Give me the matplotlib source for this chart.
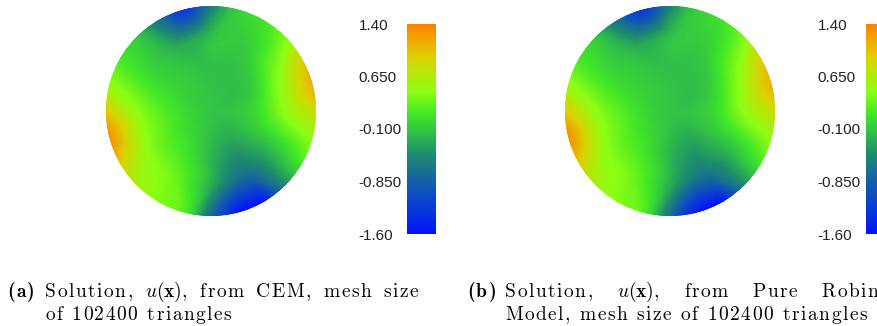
import numpy as np
import matplotlib
matplotlib.use('Agg')
import matplotlib.pyplot as plt
import matplotlib.tri as mtri
from matplotlib.colors import LinearSegmentedColormap, Normalize
from matplotlib.patches import Circle

# POTENTIAL u(x) SAMPLED ON THE DISK (read from the renders)
u_centre_a = -0.12
ang_inner = [0, 30, 60, 90, 120, 150, 180, 210, 240, 270, 300, 330]
ang_outer = [0, 15, 30, 45, 60, 75, 90, 105, 120, 135, 150, 165,
             180, 195, 210, 225, 240, 255, 270, 285, 300, 315, 330, 345]
r_inner, r_mid, r_outer = 0.4, 0.7, 1.02

u_a_inner = [0.0, -0.1, -0.15, -0.15, -0.1, 0.0, 0.15, 0.15, 0.05, -0.2, -0.35, -0.15]
u_a_mid = [0.45, 0.35, -0.05, -0.15, -0.25, 0.05, 0.45, 0.45, 0.3, -0.25, -0.7, -0.1]
u_a_outer = [0.85, 1.15, 0.95, 0.4, 0.1, -0.05, -0.6, -1.3, -0.7, -0.1, 0.15, 0.5,
             1.0, 1.35, 1.0, 0.6, 0.4, 0.2, -0.8, -1.6, -1.6, -0.5, 0.15, 0.5]

u_centre_b = -0.12
u_b_inner = [0.0, -0.1, -0.15, -0.15, -0.1, 0.0, 0.15, 0.15, 0.05, -0.2, -0.35, -0.15]
u_b_mid = [0.45, 0.35, -0.05, -0.15, -0.25, 0.05, 0.45, 0.45, 0.3, -0.25, -0.65, -0.1]
u_b_outer = [0.85, 1.15, 0.95, 0.4, 0.1, -0.05, -0.55, -1.3, -0.75, -0.1, 0.15, 0.5,
             1.0, 1.35, 1.0, 0.6, 0.4, 0.2, -0.75, -1.6, -1.6, -0.5, 0.15, 0.5]

cb_ticks = [1.40, 0.650, -0.100, -0.850, -1.60]
cb_labels = ['1.40', '0.650', '-0.100', '-0.850', '-1.60']

# paraview-like rainbow
cmap = LinearSegmentedColormap.from_list('pv', [
    (0.00, (0/255, 20/255, 255/255)),
    (0.13, (10/255, 60/255, 215/255)),
    (0.25, (20/255, 95/255, 170/255)),
    (0.38, (30/255, 140/255, 110/255)),
    (0.49, (50/255, 195/255, 70/255)),
    (0.57, (65/255, 230/255, 40/255)),
    (0.68, (140/255, 255/255, 20/255)),
    (0.84, (220/255, 210/255, 0/255)),
    (1.00, (255/255, 130/255, 0/255)),
])
norm = Normalize(vmin=-1.6, vmax=1.4)

plt.rcParams['mathtext.fontset'] = 'cm'
W, H = 877, 326
fig = plt.figure(figsize=(W/100, H/100), dpi=100)


def box(x0, y0, x1, y1):
    # pixel box (top-left origin) -> figure fraction
    return [x0/W, 1 - y1/H, (x1-x0)/W, (y1-y0)/H]


def draw_disk(ax, centre, inner, mid, outer):
    ai = np.radians(ang_inner)
    ao = np.radians(ang_outer)
    xs = np.concatenate([[0], r_inner*np.cos(ai), r_mid*np.cos(ai), r_outer*np.cos(ao)])
    ys = np.concatenate([[0], r_inner*np.sin(ai), r_mid*np.sin(ai), r_outer*np.sin(ao)])
    zs = np.concatenate([[centre], inner, mid, outer])
    tri = mtri.Triangulation(xs, ys)
    refiner = mtri.UniformTriRefiner(tri)
    interp = mtri.CubicTriInterpolator(tri, zs, kind='geom')
    tri_f, z_f = refiner.refine_field(zs, triinterpolator=interp, subdiv=4)
    m = ax.tripcolor(tri_f, z_f, cmap=cmap, norm=norm, shading='gouraud')
    m.set_clip_path(Circle((0, 0), 1.0, transform=ax.transData))
    ax.set_xlim(-1, 1)
    ax.set_ylim(-1, 1)
    ax.set_aspect('equal')
    ax.axis('off')
    return m


def draw_cbar(cax, m):
    cb = fig.colorbar(m, cax=cax, ticks=cb_ticks)
    cb.outline.set_visible(False)
    cax.yaxis.set_ticks_position('left')
    cax.set_yticklabels(cb_labels)
    cax.tick_params(length=0, pad=35, labelsize=11)
    for t in cax.get_yticklabels():
        t.set_horizontalalignment('left')
        t.set_fontfamily('Liberation Sans')
        t.set_color('#222222')


ax_a = fig.add_axes(box(106, 6, 316, 216))
m_a = draw_disk(ax_a, u_centre_a, u_a_inner, u_a_mid, u_a_outer)
draw_cbar(fig.add_axes(box(407, 24, 436, 234)), m_a)

ax_b = fig.add_axes(box(565, 6, 775, 216))
m_b = draw_disk(ax_b, u_centre_b, u_b_inner, u_b_mid, u_b_outer)
draw_cbar(fig.add_axes(box(866, 24, 895, 234)), m_b)

# CAPTIONS (low-res dvi look: a little letter spacing)
fs = 14
track = 1.5
cap = dict(fontsize=fs, family='cmr10', va='baseline', color='black')
renderer = fig.canvas.get_renderer()


def text_w(s, style):
    t = fig.text(0, 0, s, **style)
    w = t.get_window_extent(renderer).width
    t.remove()
    return w


def word_w(w, style=cap):
    if w.startswith('$'):
        return text_w(w, style)
    return text_w(w, style) + track*(len(w) - 1)


def put_word(w, x, y, style=cap):
    if w.startswith('$'):
        fig.text(x/W, 1 - y/H, w, **style)
        return
    for k, ch in enumerate(w):
        xk = x + (text_w(w[:k] + 'x', style) - text_w('x', style) if k else 0) + track*k
        fig.text(xk/W, 1 - y/H, ch, **style)


def line(words, x0, y, x1=None):
    widths = [word_w(w) for w in words]
    if x1 is None:
        gap = text_w('a a', cap) - text_w('aa', cap) + 2*track
    else:
        gap = (x1 - x0 - sum(widths)) / (len(words) - 1)
    x = x0
    for w, wd in zip(words, widths):
        put_word(w, x, y)
        x += wd + gap


bold = dict(cap, family='cmb10')
put_word('(a)', 7, 297, bold)
line(['Solution,', r'$u(\mathbf{x})$,', 'from', 'CEM,', 'mesh', 'size'], 45, 297, 418)
line(['of', '102400', 'triangles'], 45, 320)

put_word('(b)', 467, 297, bold)
line(['Solution,', r'$u(\mathbf{x})$,', 'from', 'Pure', 'Robin'], 505, 297, 878)
line(['Model,', 'mesh', 'size', 'of', '102400', 'triangles'], 505, 320)

fig.savefig('out.png', dpi=100)
